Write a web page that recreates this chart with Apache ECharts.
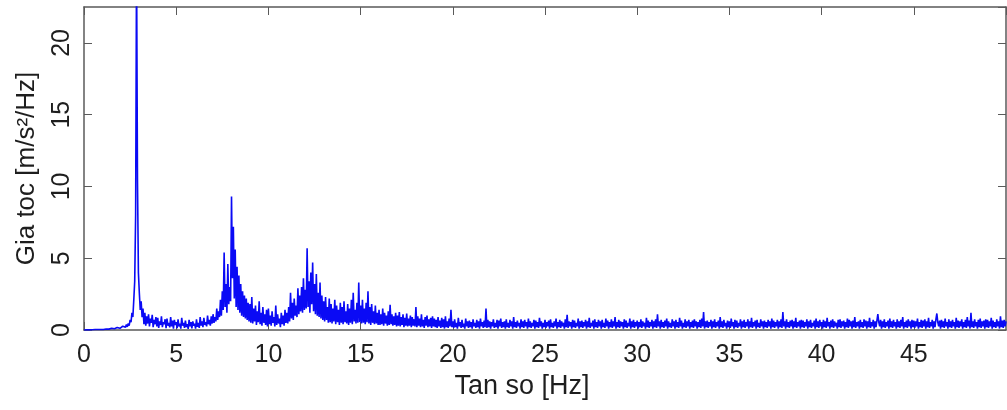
<!DOCTYPE html>
<html>
<head>
<meta charset="utf-8">
<script src="https://cdn.jsdelivr.net/npm/echarts@6/dist/echarts.min.js"></script>
<style>
  html, body { margin: 0; padding: 0; background: #fff; }
  #chart { width: 1007px; height: 410px; }
</style>
</head>
<body>
<div id="chart"></div>
<script>
// Acceleration spectrum, sampled every 0.05 Hz from 0 to 50 Hz (one row = 1 Hz)
const freqStep = 0.05;

// 0 - 10 Hz
const spectrumA = [
  0.00,0.00,0.00,0.01,0.01,0.01,0.01,0.02,0.01,0.02,0.02,0.02,0.03,0.02,0.03,0.03,0.04,0.03,0.04,0.04,
  0.05,0.04,0.06,0.05,0.07,0.05,0.08,0.06,0.10,0.07,0.12,0.08,0.14,0.09,0.13,0.11,0.18,0.10,0.16,0.12,
  0.20,0.14,0.26,0.15,0.30,0.20,0.38,0.22,0.45,0.30,0.70,0.55,1.20,0.90,2.10,3.40,8.00,26.0,10.5,4.00,
  2.60,1.40,2.00,0.90,1.50,0.40,1.20,0.30,0.95,0.45,1.10,0.25,0.80,0.50,1.05,0.20,0.70,0.40,0.90,0.25,
  0.85,0.15,0.60,0.35,0.95,0.20,0.55,0.40,0.75,0.12,0.80,0.30,0.50,0.18,0.90,0.25,0.65,0.10,0.70,0.35,
  0.55,0.12,0.75,0.25,0.45,0.10,0.85,0.30,0.50,0.15,0.65,0.20,0.40,0.08,0.70,0.25,0.55,0.12,0.60,0.30,
  0.45,0.10,0.75,0.22,0.50,0.15,0.90,0.30,0.60,0.20,0.85,0.35,0.55,0.25,1.00,0.40,0.70,0.30,0.95,0.45,
  1.10,0.50,0.90,0.60,1.50,0.70,1.30,0.90,2.10,1.00,2.70,1.40,5.40,1.60,3.20,1.20,4.60,1.80,3.00,2.00,
  9.30,3.60,7.20,2.20,5.60,1.60,4.40,1.40,3.80,1.20,3.20,1.00,2.70,0.90,2.40,0.80,2.20,0.70,1.90,0.60,
  1.80,0.50,2.30,0.45,1.50,0.60,1.70,0.35,1.30,0.55,2.00,0.40,1.20,0.30,1.60,0.50,1.10,0.35,1.40,0.25
];

// 10 - 20 Hz
const spectrumB = [
  1.50,0.40,1.00,0.30,1.30,0.50,0.90,0.25,1.70,0.35,1.10,0.45,0.80,0.20,1.20,0.40,1.00,0.30,1.40,0.50,
  1.20,0.45,1.60,0.60,2.60,0.80,1.90,0.70,2.20,1.00,1.70,0.90,2.90,1.10,2.40,1.30,3.00,1.20,3.60,1.40,
  2.80,1.50,5.70,1.60,3.40,1.20,4.00,1.80,4.70,1.30,3.20,1.10,3.90,1.00,2.60,0.90,3.30,0.80,2.40,0.70,
  2.00,0.60,2.30,0.70,1.60,0.50,2.20,0.55,1.80,0.45,1.50,0.60,2.10,0.40,1.70,0.55,1.40,0.35,1.90,0.50,
  1.60,0.40,2.00,0.55,1.30,0.45,1.80,0.35,1.50,0.50,2.10,0.40,2.60,0.60,1.40,0.45,1.90,0.50,3.30,0.55,
  1.70,0.45,2.10,0.50,1.50,0.40,1.90,0.55,2.70,0.45,1.60,0.35,1.80,0.50,1.30,0.40,1.70,0.45,1.20,0.35,
  1.40,0.35,1.10,0.40,1.50,0.30,1.20,0.45,1.00,0.30,1.30,0.35,1.75,0.40,1.10,0.30,0.95,0.35,1.20,0.25,
  1.00,0.30,1.25,0.25,0.90,0.35,1.10,0.20,0.85,0.30,1.15,0.25,0.80,0.30,1.00,0.20,0.90,0.30,0.75,0.25,
  1.60,0.20,0.95,0.30,0.80,0.20,1.10,0.25,0.70,0.15,0.90,0.30,1.00,0.20,0.75,0.25,0.85,0.15,0.95,0.25,
  0.80,0.20,0.70,0.15,0.90,0.25,0.65,0.15,0.85,0.20,0.75,0.10,0.95,0.20,0.60,0.15,0.80,0.25,1.40,0.20
];

// 20 - 35 Hz
const spectrumC = [
  0.60,0.15,0.75,0.20,0.50,0.10,0.85,0.25,0.55,0.15,0.70,0.20,0.45,0.10,0.80,0.25,0.60,0.15,0.65,0.20,
  0.55,0.10,0.75,0.25,0.50,0.15,0.70,0.20,0.60,0.10,0.80,0.25,0.55,0.15,0.65,0.20,1.50,0.15,0.70,0.20,
  0.60,0.10,0.55,0.25,0.75,0.15,0.50,0.20,0.70,0.10,0.65,0.25,0.80,0.15,0.55,0.20,0.60,0.10,0.75,0.20,
  0.50,0.15,0.70,0.25,0.60,0.10,0.90,0.20,0.55,0.15,0.65,0.25,0.50,0.10,0.75,0.20,0.60,0.15,0.70,0.25,
  0.55,0.10,0.80,0.20,0.60,0.15,0.50,0.25,0.70,0.10,0.65,0.20,0.55,0.15,0.85,0.25,0.60,0.10,0.50,0.20,
  0.70,0.15,0.55,0.25,0.65,0.10,0.75,0.20,0.50,0.15,0.60,0.25,0.80,0.10,0.55,0.20,0.70,0.15,0.60,0.25,
  0.50,0.10,0.75,0.20,1.05,0.15,0.60,0.25,0.55,0.10,0.70,0.20,0.65,0.15,0.50,0.25,0.80,0.10,0.60,0.20,
  0.65,0.15,0.55,0.25,0.70,0.10,0.60,0.20,0.85,0.15,0.50,0.25,0.65,0.10,0.75,0.20,0.55,0.15,0.70,0.25,
  0.60,0.10,0.70,0.20,0.50,0.15,0.80,0.25,0.65,0.10,0.55,0.20,0.75,0.15,0.60,0.25,0.90,0.10,0.55,0.20,
  0.70,0.15,0.60,0.25,0.55,0.10,0.75,0.20,0.65,0.15,0.50,0.25,0.80,0.10,0.60,0.20,0.70,0.15,0.55,0.25,
  0.65,0.10,0.55,0.20,0.75,0.15,0.60,0.25,0.50,0.10,0.85,0.20,0.65,0.15,0.55,0.25,0.70,0.10,0.60,0.20,
  0.75,0.15,1.10,0.25,0.60,0.10,0.70,0.20,0.55,0.15,0.65,0.25,0.80,0.10,0.60,0.20,0.50,0.15,0.75,0.25,
  0.60,0.10,0.70,0.20,0.55,0.15,0.85,0.25,0.65,0.10,0.50,0.20,0.75,0.15,0.60,0.25,0.70,0.10,0.55,0.20,
  0.65,0.15,0.75,0.25,0.60,0.10,0.55,0.20,0.70,0.15,0.80,0.25,1.25,0.10,0.60,0.20,0.65,0.15,0.55,0.25,
  0.70,0.10,0.60,0.20,0.75,0.15,0.55,0.25,0.65,0.10,0.90,0.20,0.60,0.15,0.70,0.25,0.50,0.10,0.65,0.20
];

// 35 - 50 Hz
const spectrumD = [
  0.60,0.15,0.80,0.25,0.55,0.10,0.70,0.20,0.65,0.15,0.50,0.25,0.75,0.10,0.60,0.20,0.70,0.15,0.55,0.25,
  0.75,0.10,0.60,0.20,0.85,0.15,0.55,0.25,0.65,0.10,0.70,0.20,0.50,0.15,0.75,0.25,0.60,0.10,0.65,0.20,
  0.55,0.15,0.70,0.25,0.60,0.10,0.80,0.20,0.65,0.15,0.55,0.25,0.70,0.10,0.60,0.20,0.75,0.15,1.25,0.25,
  0.60,0.10,0.75,0.20,0.55,0.15,0.65,0.25,0.70,0.10,0.60,0.20,0.85,0.15,0.55,0.25,0.65,0.10,0.70,0.20,
  0.65,0.15,0.55,0.25,0.75,0.10,0.60,0.20,0.70,0.15,0.50,0.25,0.65,0.10,0.80,0.20,0.60,0.15,0.70,0.25,
  0.55,0.10,0.70,0.20,0.60,0.15,0.85,0.25,0.55,0.10,0.65,0.20,0.75,0.15,0.60,0.25,0.50,0.10,0.70,0.20,
  0.75,0.15,0.60,0.25,0.65,0.10,0.55,0.20,0.80,0.15,0.70,0.25,0.60,0.10,0.65,0.20,0.90,0.15,0.55,0.25,
  0.60,0.10,0.70,0.20,0.55,0.15,0.75,0.25,0.65,0.10,0.60,0.20,0.85,0.15,0.55,0.25,0.70,0.10,0.60,0.20,
  0.65,1.10,0.55,0.25,0.70,0.10,0.60,0.20,0.75,0.15,0.55,0.25,0.65,0.10,0.80,0.20,0.60,0.15,0.70,0.25,
  0.55,0.10,0.75,0.20,0.60,0.15,0.70,0.25,0.90,0.10,0.55,0.20,0.65,0.15,0.75,0.25,0.60,0.10,0.70,0.20,
  0.65,0.15,0.60,0.25,0.80,0.10,0.55,0.20,0.70,0.15,0.65,0.25,0.75,0.10,0.60,0.20,0.85,0.15,0.55,0.25,
  0.70,0.10,0.60,0.20,0.75,1.15,0.55,0.25,0.65,0.10,0.70,0.20,0.60,0.15,0.80,0.25,0.55,0.10,0.75,0.20,
  0.60,0.15,0.70,0.25,0.55,0.10,0.85,0.20,0.65,0.15,0.60,0.25,0.75,0.10,0.55,0.20,0.70,0.15,0.90,0.25,
  0.65,0.10,1.20,0.20,0.60,0.15,0.75,0.25,0.55,0.10,0.70,0.20,0.80,0.15,0.60,0.25,0.65,0.10,0.75,0.20,
  0.70,0.15,0.60,0.25,0.85,0.10,0.65,0.20,0.55,0.15,0.75,0.25,0.60,0.10,0.95,0.20,0.65,0.15,0.70,0.25,
  0.60
];

const xTicks = [0, 5, 10, 15, 20, 25, 30, 35, 40, 45];
const yTicks = [0, 5, 10, 15, 20];

const spectrum = spectrumA.concat(spectrumB, spectrumC, spectrumD);
const points = spectrum.map((v, i) => [+(i * freqStep).toFixed(2), v]);

const FONT = 'Liberation Sans, Arial, sans-serif';
const frameColor = '#5a5a5a';
const textColor = '#1e1e1e';

const chart = echarts.init(document.getElementById('chart'), null, { renderer: 'canvas' });

const frameAxis = {
  axisLine: { show: true, onZero: false, lineStyle: { color: frameColor, width: 1.5 } },
  axisTick: { show: true, inside: true, length: 8, lineStyle: { color: frameColor, width: 1 } },
  splitLine: { show: false }
};

chart.setOption({
  animation: false,
  backgroundColor: '#ffffff',
  grid: { left: 84, right: 1, top: 7, bottom: 80, containLabel: false },
  xAxis: [
    Object.assign({}, frameAxis, {
      type: 'value', position: 'bottom', min: 0, max: 50, interval: 5,
      name: 'Tan so [Hz]', nameLocation: 'middle', nameGap: 38,
      nameTextStyle: { fontFamily: FONT, fontSize: 27, color: textColor, padding: [0, 46, 0, 0] },
      axisLabel: {
        margin: 13, fontFamily: FONT, fontSize: 25, color: textColor,
        showMaxLabel: false,
        formatter: v => (xTicks.indexOf(v) >= 0 ? String(v) : '')
      }
    }),
    Object.assign({}, frameAxis, {
      type: 'value', position: 'top', min: 0, max: 50, interval: 5,
      axisLabel: { show: false }
    })
  ],
  yAxis: [
    Object.assign({}, frameAxis, {
      type: 'value', position: 'left', min: 0, max: 22.5, interval: 5,
      name: 'Gia toc [m/s\u00b2/Hz]', nameLocation: 'middle', nameGap: 44, nameRotate: 90,
      nameTextStyle: { fontFamily: FONT, fontSize: 26, color: textColor },
      axisLabel: {
        margin: 9, rotate: 90, fontFamily: FONT, fontSize: 25, color: textColor,
        showMaxLabel: false,
        formatter: v => (yTicks.indexOf(v) >= 0 ? String(v) : '')
      }
    }),
    Object.assign({}, frameAxis, {
      type: 'value', position: 'right', min: 0, max: 22.5, interval: 5,
      axisLabel: { show: false }
    })
  ],
  series: [{
    type: 'line',
    data: points,
    xAxisIndex: 0,
    yAxisIndex: 0,
    showSymbol: false,
    sampling: null,
    clip: true,
    lineStyle: { color: '#0a0af5', width: 1.6 },
    emphasis: { disabled: true }
  }]
});
</script>
</body>
</html>
